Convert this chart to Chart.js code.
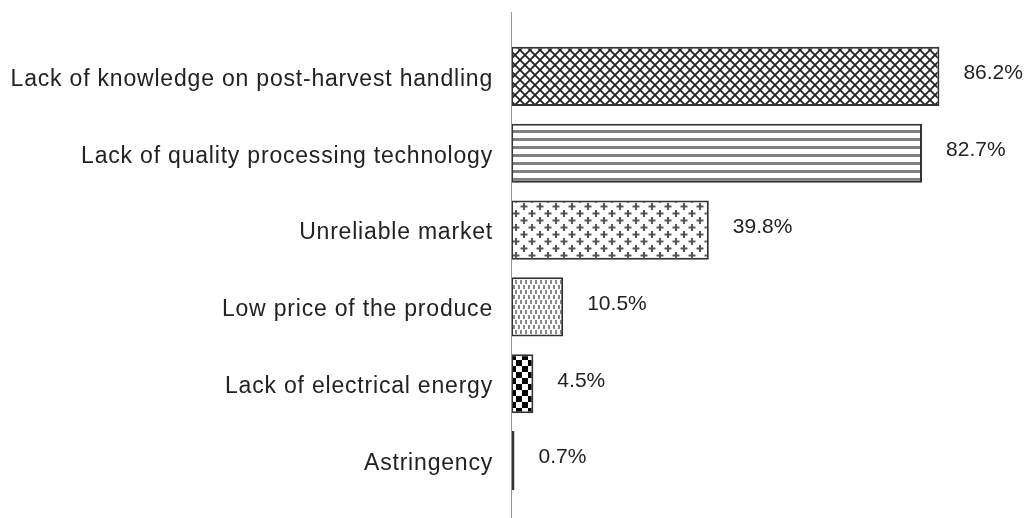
<!DOCTYPE html>
<html>
<head>
<meta charset="utf-8">
<script src="https://cdn.jsdelivr.net/npm/chart.js@4/dist/chart.umd.min.js"></script>
<style>
  html, body { margin: 0; padding: 0; background: #fff; }
  #wrap { width: 1026px; height: 518px; }
</style>
</head>
<body>
<div id="wrap"><canvas id="myChart"></canvas></div>
<script>
const categories = [
  'Lack of knowledge on post-harvest handling',
  'Lack of quality processing technology',
  'Unreliable market',
  'Low price of the produce',
  'Lack of electrical energy',
  'Astringency'
];
const percents = [86.2, 82.7, 39.8, 10.5, 4.5, 0.7];
const patternNames = ['crosshatch', 'hlines', 'plus', 'dots', 'checker', 'solid'];

function makePattern(kind) {
  const c = document.createElement('canvas');
  const g = c.getContext('2d');
  if (kind == 'crosshatch') {
    c.width = 10; c.height = 10;
    g.fillStyle = '#fff'; g.fillRect(0, 0, 10, 10);
    g.strokeStyle = '#222'; g.lineWidth = 1.8;
    g.beginPath();
    g.moveTo(-1, -1); g.lineTo(11, 11);
    g.moveTo(11, -1); g.lineTo(-1, 11);
    g.stroke();
  } else if (kind == 'hlines') {
    c.width = 8; c.height = 8;
    g.fillStyle = '#fff'; g.fillRect(0, 0, 8, 8);
    g.fillStyle = '#808080'; g.fillRect(0, 2, 8, 3);
  } else if (kind == 'plus') {
    c.width = 16; c.height = 14;
    g.fillStyle = '#fff'; g.fillRect(0, 0, 16, 14);
    g.fillStyle = '#555';
    [[4, 3.5], [12, 10.5]].forEach(p => {
      g.fillRect(p[0] - 1, p[1] - 3.5, 2, 7);
      g.fillRect(p[0] - 3.5, p[1] - 1, 7, 2);
    });
  } else if (kind == 'dots') {
    c.width = 5; c.height = 10;
    g.fillStyle = '#fff'; g.fillRect(0, 0, 5, 10);
    g.fillStyle = '#888';
    g.fillRect(0, 0, 2, 4);
    g.fillRect(3, 5, 2, 4);
  } else if (kind == 'checker') {
    c.width = 12; c.height = 12;
    g.fillStyle = '#fff'; g.fillRect(0, 0, 12, 12);
    g.fillStyle = '#000';
    g.fillRect(0, 0, 6, 6);
    g.fillRect(6, 6, 6, 6);
  } else {
    return '#444';
  }
  return g.createPattern(c, 'repeat');
}

const ctx = document.getElementById('myChart').getContext('2d');

const extras = {
  id: 'extras',
  afterDatasetsDraw(chart) {
    const c = chart.ctx;
    const area = chart.chartArea;
    c.save();
    c.strokeStyle = '#999';
    c.lineWidth = 1;
    c.beginPath();
    c.moveTo(area.left + 0.5, 12);
    c.lineTo(area.left + 0.5, 518);
    c.stroke();
    c.fillStyle = '#222';
    c.textBaseline = 'middle';
    const bars = chart.getDatasetMeta(0).data;
    c.font = '21px "Liberation Sans", Arial, sans-serif';
    c.textAlign = 'left';
    bars.forEach((bar, i) => {
      c.fillText(percents[i].toFixed(1) + '%', bar.x + 24, bar.y - 3);
    });
    c.font = '23px "Liberation Sans", Arial, sans-serif';
    c.letterSpacing = '0.8px';
    c.textAlign = 'right';
    bars.forEach((bar, i) => {
      c.fillText(categories[i], 493, bar.y + 3);
    });
    c.restore();
  }
};

new Chart(ctx, {
  type: 'bar',
  data: {
    labels: categories,
    datasets: [{
      data: percents,
      backgroundColor: patternNames.map(makePattern),
      borderColor: '#333',
      borderWidth: 2,
      borderSkipped: false,
      barPercentage: 0.77,
      categoryPercentage: 1
    }]
  },
  options: {
    indexAxis: 'y',
    responsive: true,
    maintainAspectRatio: false,
    animation: false,
    layout: { padding: { top: 38, bottom: 19, left: 0, right: 18 } },
    plugins: { legend: { display: false }, tooltip: { enabled: false } },
    scales: {
      x: { display: false, min: 0, max: 100 },
      y: {
        grid: { display: false, drawTicks: false },
        border: { display: false },
        afterFit(scale) { scale.width = 511; },
        ticks: { display: false }
      }
    }
  },
  plugins: [extras]
});
</script>
</body>
</html>
